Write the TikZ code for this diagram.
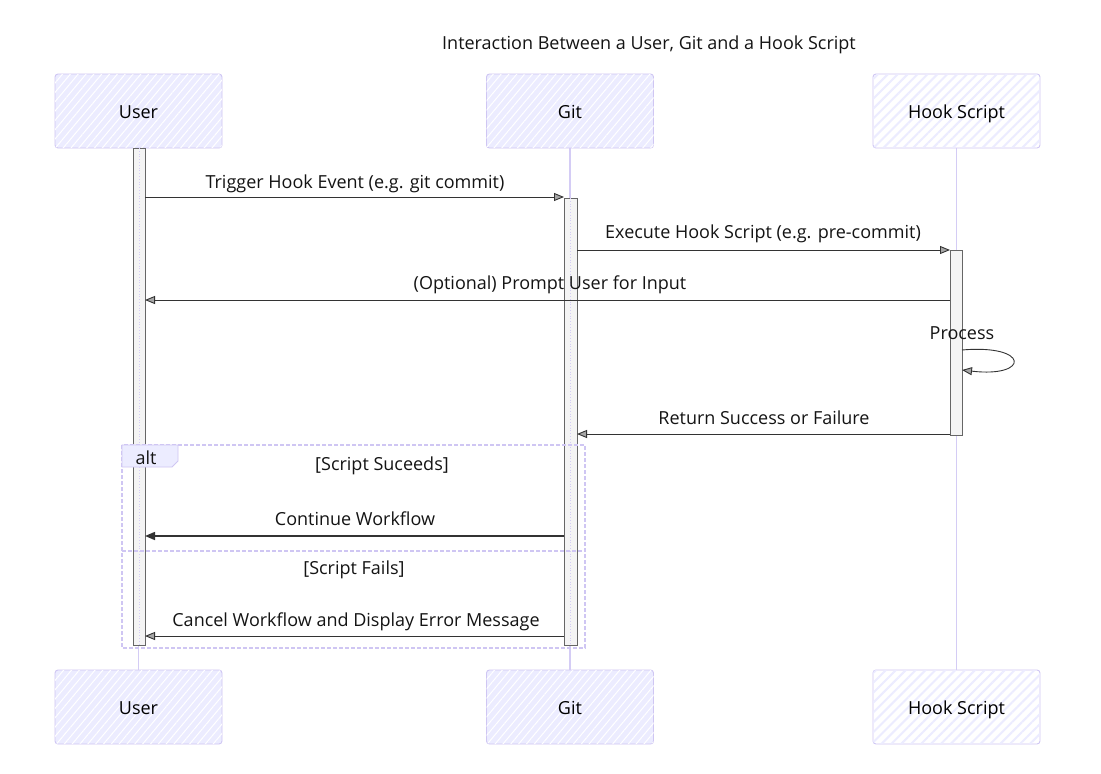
\documentclass[tikz,border=0pt]{standalone}
\usepackage{fontspec}
\setmainfont{Open Sans}
\usetikzlibrary{arrows.meta,patterns.meta}
\definecolor{lav}{HTML}{CFC6F3}
\definecolor{lavfill}{HTML}{ECECFF}
\definecolor{lavline}{HTML}{D4CCF5}
\definecolor{actfill}{HTML}{F4F4F4}
\definecolor{ink}{HTML}{333333}
\tikzset{
  actor/.style={draw=lav, line width=0.9pt, fill=lavfill, rounded corners=3pt,
    minimum width=167pt, minimum height=74pt, inner sep=0pt, font=\fontsize{18}{20}\selectfont,
    text height=19pt, text depth=4pt, text=black,
    postaction={pattern={Lines[angle=50,distance=6pt,line width=1pt]}, pattern color=white!100}},
  hookactor/.style={draw=lav, line width=0.9pt, fill=white, rounded corners=3pt,
    minimum width=167pt, minimum height=74pt, inner sep=0pt, font=\fontsize{18}{20}\selectfont,
    text height=19pt, text depth=4pt, text=black,
    postaction={pattern={Lines[angle=45,distance=7pt,line width=2pt]}, pattern color=lavfill}},
  life/.style={draw=lavline, line width=1.6pt},
  act/.style={draw=ink!75, line width=0.7pt, fill=actfill},
  msg/.style={draw=ink, line width=0.9pt, -{Triangle[open,length=10pt,width=8pt,fill=gray!70]}},
  msgb/.style={draw=ink, line width=1.5pt, -{Triangle[length=10pt,width=8pt]}},
  lbl/.style={font=\fontsize{18}{20}\selectfont, text=black!92, inner sep=0pt, text height=19pt, text depth=4pt},
  frame/.style={draw=lav, line width=1.4pt, dashed, dash pattern=on 4pt off 2pt},
}
\begin{document}
\begin{tikzpicture}[x=1pt,y=-1pt]
\useasboundingbox[fill=white] (0,0) rectangle (1101,774);

% title
\node[lbl] (title) at (649,42) {Interaction Between a User, Git and a Hook Script};

% actors
\node[actor] (ut) at (138.5,111) {User};
\node[actor] (gt) at (570,111) {Git};
\node[hookactor] (ht) at (956.5,111) {Hook Script};
\node[actor] (ub) at (138.5,707) {User};
\node[actor] (gb) at (570,707) {Git};
\node[hookactor] (hb) at (956.5,707) {Hook Script};

% lifelines
\draw[life] (ut.south) -- (ub.north);
\draw[life] (gt.south) -- (gb.north);
\draw[life] (ht.south) -- (hb.north);

% activations
\draw[act] (133,148) rectangle (145,645);
\draw[act] (564,198) rectangle (577,645);
\draw[act] (950,250) rectangle (962,435);
\draw[lavline, line width=0.8pt, dotted] (139,148) -- (139,645);
\draw[lavline, line width=0.8pt, dotted] (570.5,198) -- (570.5,645);

\coordinate (u1) at (145,197); \coordinate (g1) at (564,197);
\coordinate (g2) at (577,250); \coordinate (h2) at (950,250);
\coordinate (h3) at (950,300); \coordinate (u3) at (145,300);
\coordinate (pa) at (962,350); \coordinate (pb) at (962,370);
\coordinate (h5) at (950,434); \coordinate (g5) at (577,434);
\coordinate (g7) at (564,536); \coordinate (u7) at (145,536);
\coordinate (g8) at (564,636); \coordinate (u8) at (145,636);

% messages
\draw[msg] (u1) -- (g1);
\node[lbl] (m1) at (355,181) {Trigger Hook Event (e.g. git commit)};
\draw[msg] (g2) -- (h2);
\node[lbl] (m2) at (763,231) {Execute Hook Script (e.g. pre-commit)};
\draw[msg] (h3) -- (u3);
\node[lbl] (m3) at (550,282) {(Optional) Prompt User for Input};
\node[lbl] (m4) at (962,332) {Process};
\draw[msg] (pa) .. controls (1030,344) and (1030,378) .. (pb);
\draw[msg] (h5) -- (g5);
\node[lbl] (m5) at (764,417) {Return Success or Failure};

% alt frame
\draw[frame] (122,445) rectangle (585,648);
\draw[frame] (122,551) -- (585,551);
\draw[draw=lav, line width=0.9pt, fill=lavfill] (122,445) -- (178,445) -- (178,461) -- (172,467) -- (122,467) -- cycle;
\node[lbl] (alt) at (146,457) {alt};
\node[lbl] (c1) at (382,463) {[Script Suceeds]};
\node[lbl] (c2) at (354,567) {[Script Fails]};

\draw[msgb] (g7) -- (u7);
\node[lbl] (m7) at (355,518) {Continue Workflow};
\draw[msg] (g8) -- (u8);
\node[lbl] (m8) at (356,619) {Cancel Workflow and Display Error Message};
\end{tikzpicture}
\end{document}
